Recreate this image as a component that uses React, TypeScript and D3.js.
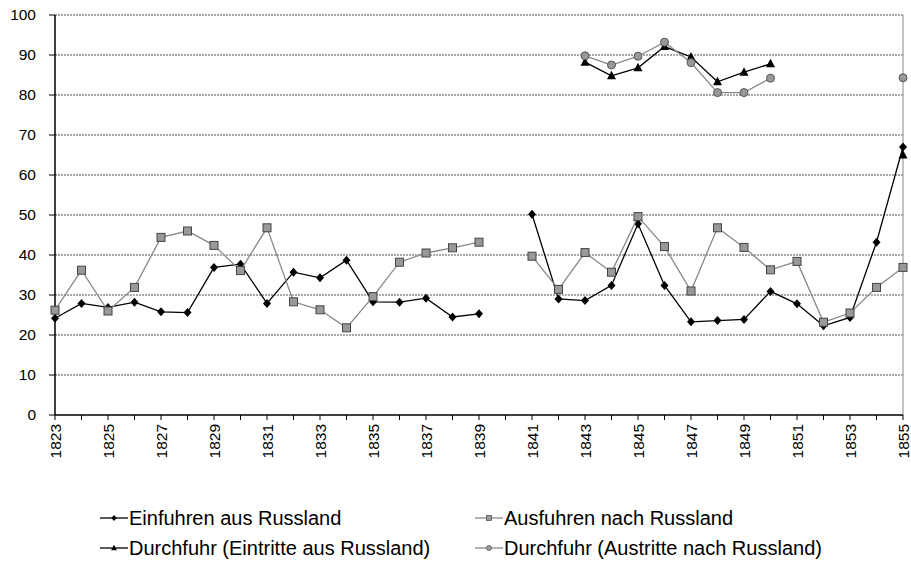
import * as React from 'react';
import * as d3 from 'd3';

// years 1823..1855, null = no value
const years = d3.range(1823, 1856);

const einfuhren = [24.2, 27.9, 26.9, 28.2, 25.8, 25.6, 36.9, 37.7, 27.9, 35.7, 34.3, 38.7, 28.3, 28.2, 29.2, 24.5, 25.3, null,
  50.2, 29.0, 28.6, 32.4, 47.8, 32.4, 23.3, 23.6, 23.9, 30.9, 27.8, 22.3, 24.4, 43.2, 67.0];

const ausfuhren = [26.2, 36.2, 26.0, 31.9, 44.4, 46.0, 42.4, 36.1, 46.8, 28.3, 26.3, 21.8, 29.6, 38.2, 40.5, 41.8, 43.2, null,
  39.7, 31.4, 40.6, 35.7, 49.6, 42.1, 31.0, 46.8, 41.9, 36.3, 38.4, 23.2, 25.5, 31.9, 36.9];

const eintritte = [null, null, null, null, null, null, null, null, null, null, null, null, null, null, null, null, null, null,
  null, null, 88.2, 84.8, 86.8, 92.1, 89.5, 83.3, 85.7, 87.8, null, null, null, null, 65.0];

const austritte = [null, null, null, null, null, null, null, null, null, null, null, null, null, null, null, null, null, null,
  null, null, 89.8, 87.5, 89.7, 93.2, 88.1, 80.6, 80.6, 84.2, null, null, null, null, 84.3];

const yTicks = d3.range(0, 101, 10);
const xLabelYears = years.filter((y) => (y - 1823) % 2 === 0);

const seriesNames = [
  'Einfuhren aus Russland',
  'Ausfuhren nach Russland',
  'Durchfuhr (Eintritte aus Russland)',
  'Durchfuhr (Austritte nach Russland)',
];

const font = '"Liberation Sans", Arial, sans-serif';

const Marker = ({ kind, x, y }: { kind: string; x: number; y: number }) => {
  if (kind === 'diamond')
    return <path d={`M${x},${y - 4.5}L${x + 4},${y}L${x},${y + 4.5}L${x - 4},${y}Z`} fill="#000" />;
  if (kind === 'square')
    return <rect x={x - 4} y={y - 4} width={8} height={8} fill="#999" stroke="#444" strokeWidth={1} />;
  if (kind === 'triangle')
    return <path d={`M${x},${y - 5}L${x + 4.5},${y + 3.5}L${x - 4.5},${y + 3.5}Z`} fill="#000" />;
  return <circle cx={x} cy={y} r={4} fill="#999" stroke="#555" strokeWidth={1} />;
};

export default function App() {
  const width = 911, height = 563;
  const m = { left: 55, right: 8, top: 15, bottom: 148 };

  const x = d3.scaleLinear().domain([1823, 1855]).range([m.left, width - m.right]);
  const y = d3.scaleLinear().domain([0, 100]).range([height - m.bottom, m.top]);

  const series = [
    { data: einfuhren, color: '#000', kind: 'diamond' },
    { data: ausfuhren, color: '#888', kind: 'square' },
    { data: eintritte, color: '#000', kind: 'triangle' },
    { data: austritte, color: '#888', kind: 'circle' },
  ];

  const line = d3.line<number | null>()
    .defined((d) => d !== null)
    .x((_, i) => x(years[i]))
    .y((d) => y(d as number));

  const [x0, x1] = x.range();
  const [yb, yt] = y.range();

  const legendPos = [
    { lx: 100, ly: 518 },
    { lx: 475, ly: 518 },
    { lx: 100, ly: 548 },
    { lx: 475, ly: 548 },
  ];

  return (
    <svg width={width} height={height} style={{ position: 'absolute', left: 0, top: 0, fontFamily: font }}>
      <rect width={width} height={height} fill="#fff" />
      {/* grid */}
      {yTicks.filter((t) => t > 0).map((t) => (
        <line key={t} x1={x0} x2={x1} y1={y(t)} y2={y(t)} stroke="#555" strokeWidth={1} strokeDasharray="2 1" />
      ))}
      <line x1={x1} x2={x1} y1={yt} y2={yb} stroke="#888" strokeWidth={1} />
      {/* y axis */}
      <line x1={x0} x2={x0} y1={yt} y2={yb} stroke="#000" strokeWidth={1.5} />
      {yTicks.map((t) => (
        <g key={t}>
          <line x1={x0 - 6} x2={x0} y1={y(t)} y2={y(t)} stroke="#000" />
          <text x={36} y={y(t)} dy="0.35em" textAnchor="end" fontSize={15.5} fill="#000">{t}</text>
        </g>
      ))}
      {/* x axis */}
      <line x1={x0} x2={x1} y1={yb} y2={yb} stroke="#000" strokeWidth={1.5} />
      {years.map((yr) => (
        <line key={yr} x1={x(yr)} x2={x(yr)} y1={yb} y2={yb + 5} stroke="#000" />
      ))}
      {xLabelYears.map((yr) => (
        <text key={yr} transform={`translate(${x(yr)},${yb + 9}) rotate(-90)`} textAnchor="end" dy="0.36em" fontSize={15.5} fill="#000">{yr}</text>
      ))}
      {/* series */}
      {series.map((s, si) => (
        <g key={si}>
          <path d={line(s.data) || ''} fill="none" stroke={s.color} strokeWidth={1.3} />
          {s.data.map((v, i) => v === null ? null : <Marker key={i} kind={s.kind} x={x(years[i])} y={y(v)} />)}
        </g>
      ))}
      {/* legend */}
      {series.map((s, i) => {
        const p = legendPos[i];
        const cx = p.lx + 14;
        return (
          <g key={i}>
            <line x1={p.lx} x2={p.lx + 28} y1={p.ly} y2={p.ly} stroke={s.color} strokeWidth={1.3} />
            <g transform={`translate(${cx},${p.ly}) scale(0.65) translate(${-cx},${-p.ly})`}>
              <Marker kind={s.kind} x={cx} y={p.ly} />
            </g>
            <text x={p.lx + 29} y={p.ly} dy="0.35em" fontSize={20} fill="#000">{seriesNames[i]}</text>
          </g>
        );
      })}
    </svg>
  );
}
